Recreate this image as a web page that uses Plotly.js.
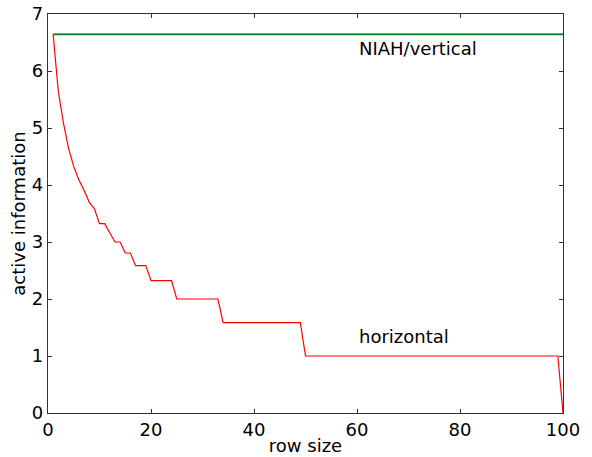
<!DOCTYPE html>
<html>
<head>
<meta charset="utf-8">
<script src="https://cdn.plot.ly/plotly-3.0.1.min.js"></script>
<style>html,body{margin:0;padding:0;background:#fff;}#chart{width:592px;height:457px;}</style>
</head>
<body>
<div id="chart"></div>
<script>
const rowSize = [];
for (let i = 1; i <= 100; i++) rowSize.push(i);
const horizontal = [
  6.644, 5.644, 5.087, 4.644, 4.322, 4.087, 3.907, 3.700, 3.585, 3.322,
  3.322, 3.170, 3.000, 3.000, 2.807, 2.807, 2.585, 2.585, 2.585, 2.322,
  2.322, 2.322, 2.322, 2.322, 2.000, 2.000, 2.000, 2.000, 2.000, 2.000,
  2.000, 2.000, 2.000, 1.585, 1.585, 1.585, 1.585, 1.585, 1.585, 1.585,
  1.585, 1.585, 1.585, 1.585, 1.585, 1.585, 1.585, 1.585, 1.585, 1.000,
  1.000, 1.000, 1.000, 1.000, 1.000, 1.000, 1.000, 1.000, 1.000, 1.000,
  1.000, 1.000, 1.000, 1.000, 1.000, 1.000, 1.000, 1.000, 1.000, 1.000,
  1.000, 1.000, 1.000, 1.000, 1.000, 1.000, 1.000, 1.000, 1.000, 1.000,
  1.000, 1.000, 1.000, 1.000, 1.000, 1.000, 1.000, 1.000, 1.000, 1.000,
  1.000, 1.000, 1.000, 1.000, 1.000, 1.000, 1.000, 1.000, 1.000, 0.000
];
const niahX = [1, 100];
const niahY = [6.644, 6.644];
const verticalX = [1, 100];
const verticalY = [6.644, 6.644];
const labels = ["NIAH/vertical", "horizontal"];
const labelX = [60, 60];
const labelY = [6.4, 1.35];

const font = {family: "DejaVu Sans", size: 18, color: "#000"};
const data = [
  {x: niahX, y: niahY, mode: "lines", line: {color: "#3a6fa0", width: 1.8}, hoverinfo: "none"},
  {x: verticalX, y: verticalY, mode: "lines", line: {color: "#007a20", width: 1.2}, hoverinfo: "none"},
  {x: rowSize, y: horizontal, mode: "lines", line: {color: "#ff0000", width: 1.2}, hoverinfo: "none"}
];
const axisCommon = {
  showgrid: false, zeroline: false, showline: true, mirror: "ticks",
  linecolor: "#333", linewidth: 1.2, ticks: "inside", ticklen: 4, tickcolor: "#333",
  tickfont: font
};
const layout = {
  width: 592, height: 457,
  margin: {l: 48, r: 29, t: 14, b: 44},
  paper_bgcolor: "#fff", plot_bgcolor: "#fff",
  showlegend: false,
  font: font,
  xaxis: Object.assign({}, axisCommon, {range: [0, 100], tickvals: [0,20,40,60,80,100],
    title: {text: "row size", font: font, standoff: 0}}),
  yaxis: Object.assign({}, axisCommon, {range: [0, 7], tickvals: [0,1,2,3,4,5,6,7],
    title: {text: "active information", font: font, standoff: 1}}),
  annotations: labels.map((t, i) => ({x: labelX[i], y: labelY[i], text: t, showarrow: false,
    xanchor: "left", yanchor: "middle", font: font}))
};
Plotly.newPlot("chart", data, layout, {displayModeBar: false, staticPlot: true});
</script>
</body>
</html>
